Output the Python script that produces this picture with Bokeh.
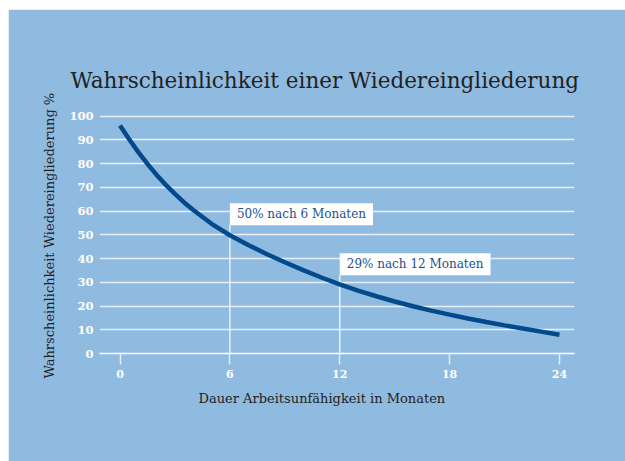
from bokeh.plotting import figure
from bokeh.models import Label, Range1d, FixedTicker, Title
from bokeh.embed import file_html
from bokeh.resources import INLINE

# ---- data ----
months = [0, 0.5, 1, 1.5, 2, 2.5, 3, 3.5, 4, 5, 6, 7, 8, 9, 10, 11, 12,
          13, 14, 15, 16, 17, 18, 19, 20, 21, 22, 23, 24]
probability = [96, 90.2, 84.8, 79.8, 75.2, 71.0, 67.2, 63.6, 60.4, 54.6, 49.8,
               45.7, 41.9, 38.4, 35.1, 32.0, 29.1, 26.5, 24.1, 21.9, 19.9,
               18.05, 16.35, 14.75, 13.25, 11.85, 10.5, 9.2, 7.9]

x_ticks = [0, 6, 12, 18, 24]
y_ticks = [0, 10, 20, 30, 40, 50, 60, 70, 80, 90, 100]

ann_months = [6, 12]
ann_values = [50, 29]
ann_texts = ["50% nach 6 Monaten", "29% nach 12 Monaten"]

title_text = "Wahrscheinlichkeit einer Wiedereingliederung"
x_label = "Dauer Arbeitsunfähigkeit in Monaten"
y_label = "Wahrscheinlichkeit Wiedereingliederung %"

# ---- style ----
BG = "#90bbe0"
CURVE = "#024a8c"
TEXT = "#222222"
ANN_TEXT = "#1d4f8c"
SERIF = "DejaVu Serif"

p = figure(width=617, height=452,
           x_range=Range1d(-1.12, 24.82), y_range=Range1d(0, 104),
           output_backend="svg", toolbar_location=None,
           min_border_left=91, min_border_right=51,
           min_border_top=97, min_border_bottom=108)
p.margin = (9, 0, 0, 8)
p.background_fill_color = BG
p.border_fill_color = BG
p.outline_line_color = BG
p.outline_line_width = 2

# title
p.title.text = title_text
p.title.align = "left"
p.title.offset = -29
p.title.text_font = SERIF
p.title.text_font_size = "21.5px"
p.title.text_font_style = "normal"
p.title.text_color = TEXT
p.title.standoff = 27

# grid
p.xgrid.grid_line_color = None
p.ygrid.ticker = FixedTicker(ticks=y_ticks)
p.ygrid.grid_line_color = "white"
p.ygrid.grid_line_alpha = 0.78
p.ygrid.grid_line_width = 1.5

# x axis
xa = p.xaxis[0]
xa.ticker = FixedTicker(ticks=x_ticks)
xa.axis_line_color = "white"
xa.axis_line_width = 1.5
xa.major_tick_line_color = "white"
xa.major_tick_line_alpha = 0.75
xa.major_tick_line_width = 1.5
xa.major_tick_in = 0
xa.major_tick_out = 11
xa.minor_tick_line_color = None
xa.major_label_standoff = 5
xa.major_label_text_color = "white"
xa.major_label_text_font = SERIF
xa.major_label_text_font_style = "bold"
xa.major_label_text_font_size = "11px"

# y axis
ya = p.yaxis[0]
ya.ticker = FixedTicker(ticks=y_ticks)
ya.axis_line_color = None
ya.major_tick_line_color = None
ya.major_tick_in = 0
ya.major_tick_out = 0
ya.minor_tick_line_color = None
ya.major_label_standoff = 6
ya.major_label_text_color = "white"
ya.major_label_text_font = SERIF
ya.major_label_text_font_style = "bold"
ya.major_label_text_font_size = "11.5px"

# axis titles
p.add_layout(Title(text=x_label, align="left", offset=99, text_font=SERIF,
                   text_font_size="13px", text_font_style="normal",
                   text_color=TEXT, standoff=16), "below")
p.add_layout(Title(text=y_label, align="left", offset=-25, text_font=SERIF,
                   text_font_size="13px", text_font_style="normal",
                   text_color=TEXT, standoff=20), "left")

# annotation guide lines
ann_label_y = [v + 4 for v in ann_values]
p.segment(x0=ann_months, y0=[0] * len(ann_months), x1=ann_months, y1=ann_label_y,
          line_color="white", line_width=1.3, line_alpha=0.9)

# curve
p.line(months, probability, line_color=CURVE, line_width=4.5)

# annotation boxes
for m, yv, t in zip(ann_months, ann_label_y, ann_texts):
    p.add_layout(Label(x=m, y=yv, text=t, text_font=SERIF, text_font_size="12px",
                       text_color=ANN_TEXT, text_align="left", text_baseline="bottom",
                       background_fill_color="white", padding=(7, 4)))

open("out.html", "w").write(file_html(p, INLINE))
